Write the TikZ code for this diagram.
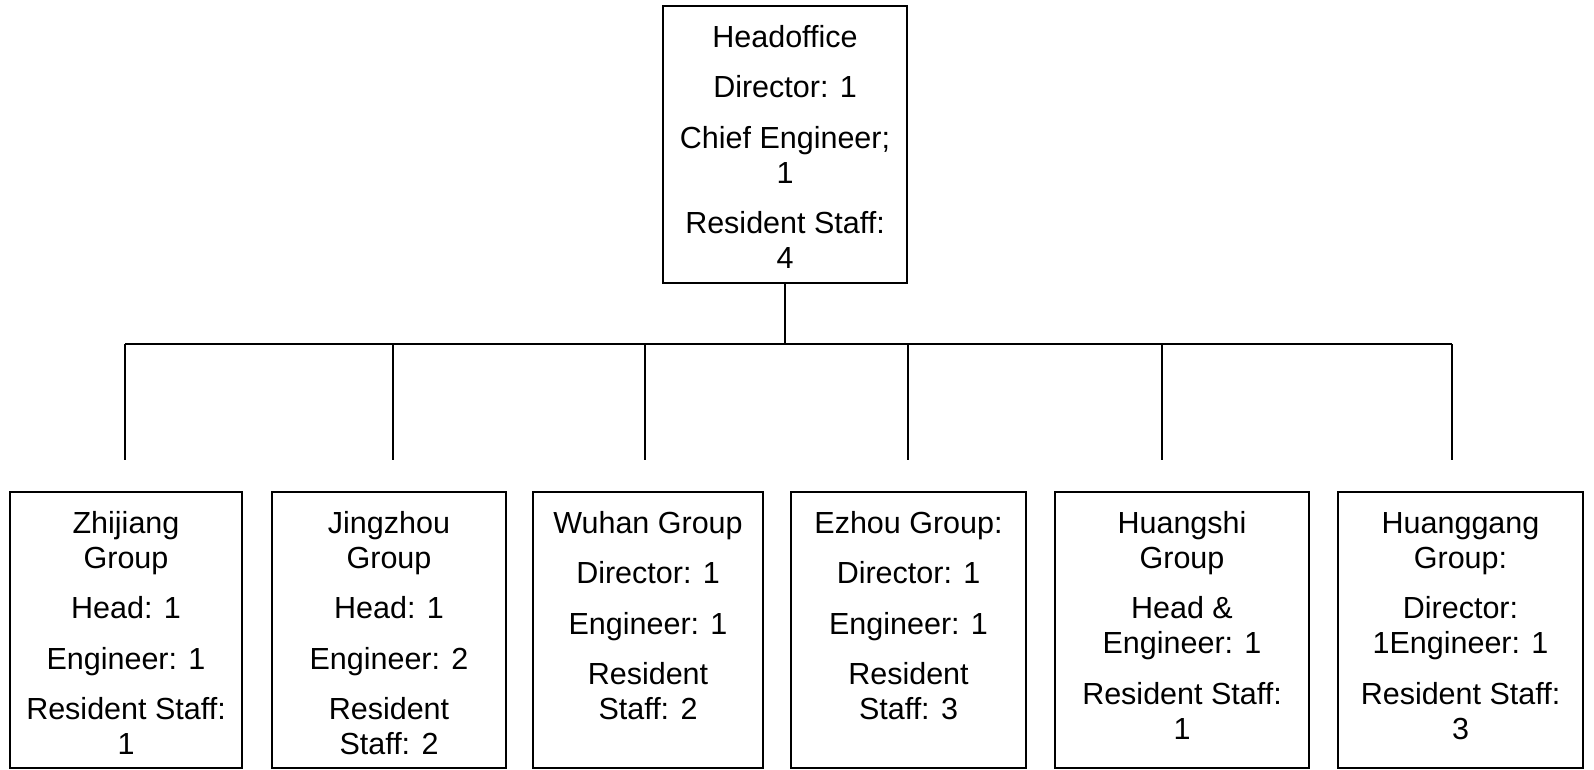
\documentclass[tikz,border=0pt]{standalone}
\usepackage{fontspec}
\setmainfont{Liberation Sans}

% extra space between the entries of one unit
\newcommand\gap{\\[15.5pt]}
% fixed-size text block, lines set from the top
\newcommand\unittext[3]{\parbox[c][\dimexpr#2pt-38pt\relax][t]{#1pt}{\centering\fontsize{30.5}{35}\selectfont\rule{0pt}{22pt}#3}}

\tikzset{
  unit/.style={draw, line width=1.7pt, inner xsep=0pt, inner ysep=19pt,
               outer sep=0pt, anchor=north west},
  link/.style={line width=1.7pt}
}

\begin{document}
\begin{tikzpicture}[x=1pt, y=-1pt]
\useasboundingbox (0,0) rectangle (1594,770);

% head office
\node[unit] (hq) at (663,6) {\unittext{244}{277}{Headoffice\gap Director: 1\gap Chief Engineer;\\1\gap Resident Staff:\\4}};

% regional groups
\node[unit] (g1) at (10,492)   {\unittext{232}{276}{Zhijiang\\Group\gap Head: 1\gap Engineer: 1\gap Resident Staff:\\1}};
\node[unit] (g2) at (272,492)  {\unittext{234}{276}{Jingzhou\\Group\gap Head: 1\gap Engineer: 2\gap Resident\\Staff: 2}};
\node[unit] (g3) at (533,492)  {\unittext{230}{276}{Wuhan Group\gap Director: 1\gap Engineer: 1\gap Resident\\Staff: 2}};
\node[unit] (g4) at (791,492)  {\unittext{235}{276}{Ezhou Group:\gap Director: 1\gap Engineer: 1\gap Resident\\Staff: 3}};
\node[unit] (g5) at (1055,492) {\unittext{254}{276}{Huangshi\\Group\gap Head \&\\Engineer: 1\gap Resident Staff:\\1}};
\node[unit] (g6) at (1338,492) {\unittext{245}{276}{Huanggang\\Group:\gap Director:\\1Engineer: 1\gap Resident Staff:\\3}};

% distribution bus
\coordinate (hub) at (hq.south |- 0,344);
\coordinate (busL) at (125,344);
\coordinate (busR) at (1452,344);
\draw[link] (hq.south) -- (hub);
\draw[link] (busL) -- (busR);

% drops towards the groups
\foreach \i/\x in {1/125, 2/393, 3/645, 4/908, 5/1162, 6/1452} {
  \coordinate (t\i) at (\x,344);
  \coordinate (b\i) at (\x,460);
  \draw[link] (t\i) -- (b\i);
}
\end{tikzpicture}
\end{document}
